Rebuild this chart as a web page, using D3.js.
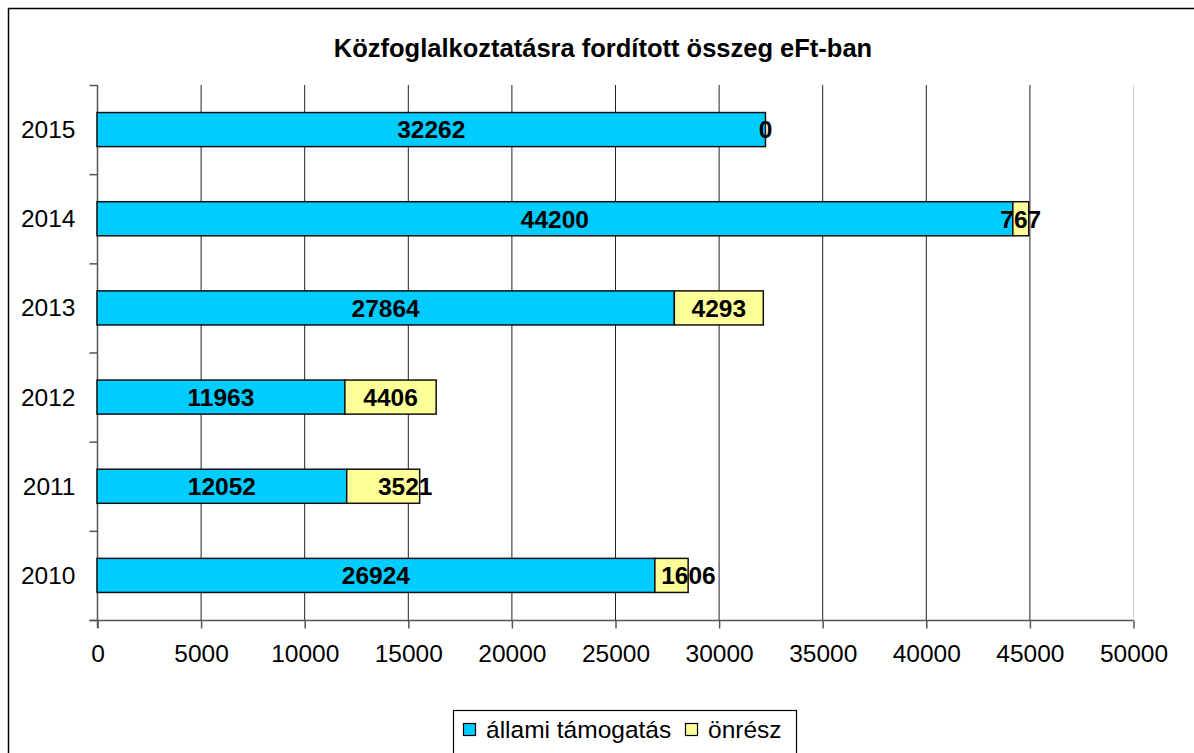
<!DOCTYPE html>
<html>
<head>
<meta charset="utf-8">
<script src="https://cdn.jsdelivr.net/npm/d3@7"></script>
<style>
  html, body { margin: 0; padding: 0; background: #fff; }
  svg { display: block; font-family: "Liberation Sans", Arial, sans-serif; }
</style>
</head>
<body>
<svg id="chart" width="1194" height="753"></svg>
<script>
const title = "Közfoglalkoztatásra fordított összeg eFt-ban";
const years = ["2010", "2011", "2012", "2013", "2014", "2015"];
const allamiTamogatas = [26924, 12052, 11963, 27864, 44200, 32262];
const onresz = [1606, 3521, 4406, 4293, 767, 0];
const xTickValues = [0, 5000, 10000, 15000, 20000, 25000, 30000, 35000, 40000, 45000, 50000];
const seriesNames = ["állami támogatás", "önrész"];
const seriesColors = ["#00CCFF", "#FFFF99"];

const svg = d3.select("#chart");
const plot = { left: 97, right: 1133, top: 85, bottom: 620 };
const fs = 24.5;
// label nudges (pixels) seen in the original for two self-share labels
const labelNudge = { "2010-1": 17, "2011-1": 22 };

// outer frame
svg.append("rect").attr("x", 8.5).attr("y", 8.5).attr("width", 1200).attr("height", 800)
  .attr("fill", "#fff").attr("stroke", "#000").attr("stroke-width", 1.5);

// title
svg.append("text").attr("x", 603).attr("y", 57).attr("text-anchor", "middle")
  .attr("font-weight", "bold").attr("font-size", 25.5).attr("fill", "#000").text(title);

const x = d3.scaleLinear().domain([0, 50000]).range([plot.left, plot.right]);
const y = d3.scaleBand().domain(years.slice().reverse()).range([plot.top, plot.bottom])
  .paddingInner(0.618).paddingOuter(0.309);

// gridlines
svg.append("g").selectAll("line").data(xTickValues.filter(v => v > 0)).join("line")
  .attr("x1", d => x(d) + 0.5).attr("x2", d => x(d) + 0.5)
  .attr("y1", plot.top).attr("y2", plot.bottom)
  .attr("stroke", d => d === 50000 ? "#d0d0d0" : "#222").attr("stroke-width", 1);

// x axis
const xAxis = d3.axisBottom(x).tickValues(xTickValues).tickFormat(d3.format("d")).tickSize(8).tickPadding(16);
const gx = svg.append("g").attr("transform", `translate(0.5,${plot.bottom + 0.5})`).call(xAxis);
gx.select(".domain").attr("d", `M${plot.left - 8},0H${plot.right}`).attr("stroke", "#555").attr("stroke-width", 1.5);
gx.selectAll(".tick line").attr("stroke", "#555").attr("stroke-width", 1.5);
gx.selectAll(".tick text").attr("font-size", fs).attr("fill", "#000")
  .attr("font-family", "Liberation Sans, Arial, sans-serif");

// y axis
const bandStep = y.step();
const gy = svg.append("g").attr("transform", `translate(${plot.left + 0.5},0)`);
gy.append("line").attr("x1", 0).attr("x2", 0).attr("y1", plot.top).attr("y2", plot.bottom + 8)
  .attr("stroke", "#555").attr("stroke-width", 1.5);
const bounds = d3.range(years.length + 1).map(i => plot.top + i * bandStep);
gy.selectAll("line.tk").data(bounds).join("line").attr("class", "tk")
  .attr("x1", -8).attr("x2", 0).attr("y1", d => d + 0.5).attr("y2", d => d + 0.5)
  .attr("stroke", "#555").attr("stroke-width", 1.5);
gy.selectAll("text").data(years).join("text")
  .attr("x", -22).attr("y", d => y(d) + y.bandwidth() / 2 + fs * 0.35)
  .attr("text-anchor", "end").attr("font-size", fs).attr("fill", "#000").text(d => d);

// bars
const rows = years.map((yr, i) => ({ year: yr, a: allamiTamogatas[i], o: onresz[i] }));
const segs = [];
rows.forEach(r => {
  segs.push({ year: r.year, x0: 0, x1: r.a, v: r.a, s: 0 });
  segs.push({ year: r.year, x0: r.a, x1: r.a + r.o, v: r.o, s: 1 });
});
svg.append("g").selectAll("rect").data(segs.filter(d => d.v > 0)).join("rect")
  .attr("x", d => x(d.x0)).attr("width", d => x(d.x1) - x(d.x0))
  .attr("y", d => y(d.year)).attr("height", y.bandwidth())
  .attr("fill", d => seriesColors[d.s]).attr("stroke", "#111").attr("stroke-width", 1.5);

// labels
svg.append("g").selectAll("text").data(segs).join("text")
  .attr("x", d => (x(d.x0) + x(d.x1)) / 2 + (labelNudge[d.year + "-" + d.s] || 0))
  .attr("y", d => y(d.year) + y.bandwidth() / 2 + fs * 0.36)
  .attr("text-anchor", "middle").attr("font-weight", "bold").attr("font-size", fs)
  .attr("fill", "#000").text(d => d.v);

// legend
const lg = svg.append("g");
lg.append("rect").attr("x", 453.5).attr("y", 710.5).attr("width", 343).attr("height", 60)
  .attr("fill", "#fff").attr("stroke", "#000").attr("stroke-width", 1.2);
const legendItems = [
  { name: seriesNames[0], color: seriesColors[0], sx: 463, tx: 486 },
  { name: seriesNames[1], color: seriesColors[1], sx: 685, tx: 708 }
];
legendItems.forEach(it => {
  lg.append("rect").attr("x", it.sx + 0.5).attr("y", 723.5).attr("width", 12).attr("height", 12)
    .attr("fill", it.color).attr("stroke", "#000").attr("stroke-width", 1.2);
  lg.append("text").attr("x", it.tx).attr("y", 738).attr("font-size", fs).attr("fill", "#000").text(it.name);
});
</script>
</body>
</html>
